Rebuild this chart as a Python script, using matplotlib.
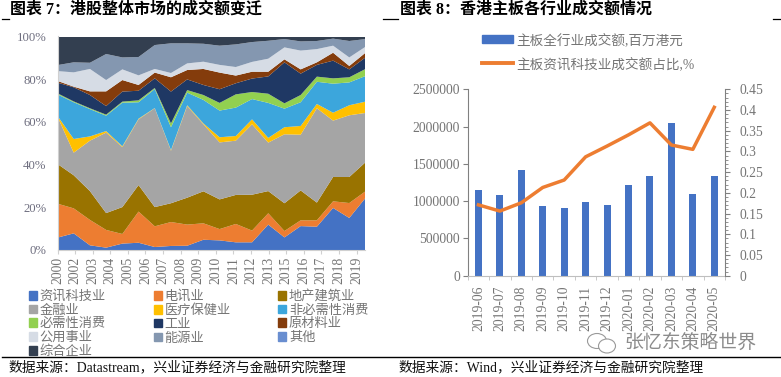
import matplotlib
matplotlib.use("Agg")
import matplotlib.pyplot as plt
import numpy as np
from matplotlib.lines import Line2D
from matplotlib.patches import Ellipse, Patch

plt.rcParams["font.family"] = ["Liberation Serif", "Noto Sans CJK SC"]

W, H = 781, 377

# left chart: upper edge of each band, percent
years = ["2000", "2002", "2003", "2004", "2005", "2006", "2007", "2008", "2009", "2010",
         "2011", "2012", "2013", "2015", "2016", "2017", "2018", "2019"]
n_points = 20
names = ["资讯科技业", "电讯业", "地产建筑业", "金融业", "医疗保健业", "非必需性消费", "必需性消费",
         "工业", "原材料业", "公用事业", "能源业", "其他", "综合企业"]
colors = ["#4472C4", "#ED7D31", "#997300", "#A5A5A5", "#FFC000", "#3CA6DC", "#92D050",
          "#1F3864", "#843C0C", "#D6DCE5", "#8497B0", "#698ED0", "#333F50"]
it_top = [5.8, 7.8, 2.2, 1.1, 3.0, 3.4, 1.4, 1.9, 2.0, 4.8, 4.5, 3.6, 3.6, 11.9, 5.9, 11.2, 10.9, 19.7, 15.0, 24.4]
telecom_top = [21.7, 19.5, 14.1, 9.4, 7.5, 18.0, 11.1, 13.1, 11.9, 12.5, 9.8, 12.2, 9.1, 17.2, 8.9, 13.9, 13.9, 22.8, 22.0, 27.5]
property_top = [40.3, 35.0, 27.6, 17.3, 20.1, 30.4, 20.1, 21.9, 24.5, 27.5, 23.7, 25.8, 25.9, 27.6, 21.9, 27.9, 22.2, 34.2, 34.2, 41.1]
finance_top = [62.5, 45.6, 51.2, 55.0, 48.2, 61.2, 66.4, 46.5, 67.4, 58.9, 50.4, 51.2, 58.9, 50.3, 54.2, 54.0, 66.4, 60.6, 63.1, 64.2]
health_top = [62.8, 52.0, 53.2, 55.7, 48.6, 61.5, 66.5, 46.8, 67.8, 59.3, 52.8, 53.4, 61.2, 52.5, 57.5, 58.1, 68.4, 64.3, 67.8, 69.5]
discretionary_top = [72.9, 69.2, 66.0, 62.9, 69.0, 69.2, 75.4, 57.5, 73.7, 70.3, 65.3, 66.7, 70.7, 68.9, 66.2, 69.2, 78.8, 77.9, 78.5, 81.5]
staples_top = [73.4, 69.6, 66.4, 63.4, 69.5, 70.1, 75.9, 59.3, 74.9, 72.6, 68.9, 72.9, 74.0, 73.2, 68.7, 72.6, 81.2, 80.4, 80.9, 84.8]
industrial_top = [78.4, 76.2, 72.6, 67.4, 74.2, 74.6, 80.4, 74.2, 79.9, 77.3, 75.3, 78.1, 80.3, 81.3, 87.9, 82.6, 86.7, 88.7, 84.6, 90.2]
materials_top = [79.2, 76.5, 74.3, 74.3, 79.6, 77.3, 83.1, 80.9, 84.3, 84.8, 83.1, 81.7, 83.5, 83.5, 89.3, 84.6, 87.9, 92.4, 86.2, 92.4]
utilities_top = [83.8, 83.2, 84.8, 79.6, 84.6, 81.8, 84.8, 82.9, 87.4, 88.2, 86.7, 85.7, 88.1, 89.6, 94.9, 93.4, 94.1, 95.7, 90.2, 95.2]
energy_top = [86.6, 87.9, 87.7, 91.8, 90.2, 90.4, 96.0, 96.8, 96.8, 96.6, 95.7, 96.3, 97.4, 98.0, 98.8, 97.7, 97.9, 99.0, 97.9, 98.8]
other_top = energy_top
total_top = [100.0] * n_points

# right chart
months = ["2019-06", "2019-07", "2019-08", "2019-09", "2019-10", "2019-11", "2019-12",
          "2020-01", "2020-02", "2020-03", "2020-04", "2020-05"]
turnover = [1143000, 1085000, 1420000, 933000, 910000, 987000, 942000, 1210000, 1333000, 2045000, 1090000, 1340000]
it_share = [0.171, 0.156, 0.176, 0.213, 0.231, 0.287, 0.313, 0.340, 0.369, 0.3155, 0.305, 0.4065]

GREY = "#757575"
FS = 9.8


def px_axes(fig, left, top, right, bottom):
    """Axes from pixel edges of the picture."""
    return fig.add_axes([left / W, 1 - bottom / H, (right - left) / W, (bottom - top) / H])


fig = plt.figure(figsize=(W / 100, H / 100), dpi=100)

# left chart
ax = px_axes(fig, 57.5, 36.5, 365.5, 250)
tops = np.array([it_top, telecom_top, property_top, finance_top, health_top, discretionary_top,
                 staples_top, industrial_top, materials_top, utilities_top, energy_top,
                 other_top, total_top])
shares = np.diff(np.vstack([np.zeros(n_points), tops]), axis=0)
x = np.arange(n_points)
polys = ax.stackplot(x, shares, colors=colors, linewidth=0)
ax.set_xlim(0, n_points - 1)
ax.set_ylim(0, 100)
ax.set_yticks(range(0, 101, 20), [f"{v}%" for v in range(0, 101, 20)], fontsize=9.2, color="#6f6f80")
ax.set_xticks(np.arange(len(years)) * 1.085, years, rotation=90, fontsize=FS, color=GREY)
ax.tick_params(axis="y", length=0, pad=8)
ax.tick_params(axis="x", length=3, color="#D0D0D0", pad=2)
for side in ["top", "right"]:
    ax.spines[side].set_visible(False)
for side in ["left", "bottom"]:
    ax.spines[side].set_color("#D0D0D0")

# legend fills by column, reference reads by row
order = [0, 3, 6, 9, 12, 1, 4, 7, 10, 2, 5, 8, 11]
handles = [Patch(color=colors[i], label=names[i]) for i in order]
fig.legend(handles=handles, ncol=3, loc="upper left", bbox_to_anchor=(29 / W, 1 - 290 / H),
           frameon=False, fontsize=9.5, labelcolor=GREY, handlelength=0.62, handleheight=0.62,
           handletextpad=0.2, columnspacing=3.6, labelspacing=0.12, borderpad=0, borderaxespad=0)

# right chart
ax2 = px_axes(fig, 467.7, 89.3, 725, 275.7)
pos = np.arange(len(months))
bars = ax2.bar(pos, turnover, width=0.33, color="#4472C4")
ax2.set_xlim(-0.5, len(months) - 0.5)
ax2.set_ylim(0, 2500000)
ax2.set_yticks(range(0, 2500001, 500000), [str(v) for v in range(0, 2500001, 500000)], fontsize=FS, color=GREY)
ax2.set_xticks(pos, months, rotation=90, fontsize=FS, color=GREY)
ax2.set_xticks(np.arange(len(months) + 1) - 0.5, minor=True)
ax2.tick_params(axis="x", which="major", length=0, pad=7)
ax2.tick_params(axis="x", which="minor", length=3, color="#BFBFBF")
ax2.tick_params(axis="y", length=3.5, color="#808080", pad=2)
ax2.spines["top"].set_visible(False)
ax2.spines["right"].set_visible(False)
ax2.spines["left"].set_color("#808080")
ax2.spines["bottom"].set_color("#BFBFBF")

ax3 = ax2.twinx()
ax3.plot(pos, it_share, color="#ED7D31", lw=2.5, solid_joinstyle="round")
ax3.set_ylim(0, 0.45)
right_ticks = np.arange(0, 10) * 0.05
ax3.set_yticks(right_ticks, ["0", "0.05", "0.1", "0.15", "0.2", "0.25", "0.3", "0.35", "0.4", "0.45"],
               fontsize=FS, color=GREY)
ax3.set_yticks(np.arange(0, 46) * 0.01, minor=True)
ax3.tick_params(axis="y", which="major", length=3.5, color="#808080", pad=7)
ax3.tick_params(axis="y", which="minor", length=2, color="#808080")
ax3.spines["top"].set_visible(False)
ax3.spines["left"].set_visible(False)
ax3.spines["bottom"].set_visible(False)
ax3.spines["right"].set_color("#808080")

legend_handles = [Patch(color="#4472C4", label="主板全行业成交额,百万港元"),
                  Line2D([], [], color="#ED7D31", lw=2.8, label="主板资讯科技业成交额占比,%")]
fig.legend(handles=legend_handles, loc="upper left", bbox_to_anchor=(482 / W, 1 - 33 / H),
           frameon=False, fontsize=9.8, labelcolor=GREY, handlelength=2.3, handleheight=0.5,
           handletextpad=0.2, labelspacing=0.75, borderpad=0, borderaxespad=0)

# titles, rules and sources
fig.text(10 / W, 1 - 10 / H, "图表 7：港股整体市场的成交额变迁", fontsize=11.5, fontweight="bold",
         va="center", color="black")
fig.text(400 / W, 1 - 10 / H, "图表 8：香港主板各行业成交额情况", fontsize=11.5, fontweight="bold",
         va="center", color="black")
for x0, x1 in [(1.5, 8.5), (383, 398), (773, 781)]:
    fig.add_artist(Line2D([x0 / W, x1 / W], [1 - 19 / H, 1 - 19 / H], color="black", lw=0.9))
fig.add_artist(Line2D([1.5 / W, 1], [1 - 357 / H, 1 - 357 / H], color="black", lw=1.0))
fig.text(9 / W, 1 - 367 / H, "数据来源：Datastream，兴业证券经济与金融研究院整理", fontsize=9.9, va="center", color="#111111")
fig.text(399 / W, 1 - 367 / H, "数据来源：Wind，兴业证券经济与金融研究院整理", fontsize=9.9, va="center", color="#111111")

# watermark
for cx, cy, w, h in [(597, 341, 19, 15), (607, 346, 17, 14)]:
    fig.add_artist(Ellipse((cx / W, 1 - cy / H), w / W, h / H, transform=fig.transFigure,
                           facecolor="white", edgecolor="#9a9a9a", lw=0.8))
fig.text(624 / W, 1 - 343 / H, "张忆东策略世界", fontsize=13.6, va="center", color="#8c8c8c")

fig.savefig("out.png", dpi=100)
